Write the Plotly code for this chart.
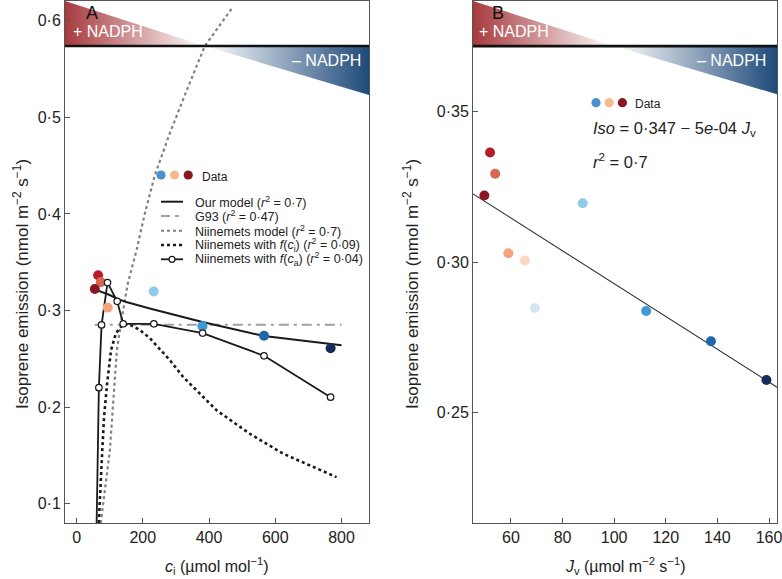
import plotly.graph_objects as go

# ---------------- data ----------------
# observations (shared between panels)
jv = [49.7, 51.9, 53.9, 59.0, 65.4, 69.3, 87.8, 112.4, 137.5, 159.0]
iso = [0.3222, 0.3365, 0.3294, 0.3030, 0.3006, 0.2848, 0.3196, 0.2838, 0.2738, 0.2609]
ci_obs = [55, 65, 73, 94, None, None, 233, 380, 566, 767]
pt_colors = ['#8a1822', '#b81c2c', '#d8674f', '#f3a47e', '#fbd7c2',
             '#d3e7f3', '#8ecbea', '#3d9ad6', '#2166ac', '#172a5a']

# panel A model curves
our_ci = [55, 100, 123, 150, 221, 282, 380, 566, 800]
our_iso = [0.3218, 0.3160, 0.3120, 0.3088, 0.3020, 0.2968, 0.2880, 0.2735, 0.2639]

g93_ci = [55, 800]
g93_iso = [0.2852, 0.2852]

niin_ci = [73, 87, 100.5, 107.5, 115.6, 121.6, 133.7, 154.8, 181.1, 206.2, 236.3, 281.6, 332.9, 387.3, 432.6, 472.7]
niin_iso = [0.080, 0.120, 0.155, 0.1896, 0.2242, 0.2588, 0.2867, 0.3282, 0.3624, 0.4007, 0.4401, 0.4836, 0.5282, 0.5738, 0.5955, 0.6145]

fci_ci = [67, 72, 77.5, 83, 92, 104, 118.6, 140.8, 165, 190, 221, 282, 322, 423, 523, 624, 785]
fci_iso = [0.080, 0.120, 0.155, 0.190, 0.224, 0.2588, 0.2763, 0.2862, 0.2845, 0.2800, 0.2714, 0.2484, 0.2311, 0.1966, 0.1724, 0.1517, 0.1275]

fca_ci = [60.5, 67.3, 75.4, 93.5, 122.6, 140.8, 233.3, 380.6, 566, 767]
fca_iso = [0.080, 0.2201, 0.2851, 0.3289, 0.3095, 0.2862, 0.2862, 0.2766, 0.2531, 0.2103]

# panel B regression
reg_intercept = 0.3474
reg_slope = -0.000545

# axes
xA_range = [-35, 883]
yA_range = [0.08, 0.6204]
xB_range = [45.3, 163.1]
yB_range = [0.2134, 0.3868]
xA_ticks = [0, 200, 400, 600, 800]
yA_ticks = [0.1, 0.2, 0.3, 0.4, 0.5, 0.6]
yA_text = ['0·1', '0·2', '0·3', '0·4', '0·5', '0·6']
xB_ticks = [60, 80, 100, 120, 140, 160]
yB_ticks = [0.25, 0.30, 0.35]
yB_text = ['0·25', '0·30', '0·35']

# NADPH bands (y of divider, x of diagonal crossing, y at right edge)
bandA = dict(ydiv=0.5738, xcross=387, yright=0.523)
bandB = dict(ydiv=0.3718, xcross=100.3, yright=0.3558)

legend_labels = [
    'Our model (<i>r</i><sup>2</sup> = 0·7)',
    'G93 (<i>r</i><sup>2</sup> = 0·47)',
    'Niinemets model (<i>r</i><sup>2</sup> = 0·7)',
    'Niinemets with <i>f</i>(<i>c</i><sub>i</sub>) (<i>r</i><sup>2</sup> = 0·09)',
    'Niinemets with <i>f</i>(<i>c</i><sub>a</sub>) (<i>r</i><sup>2</sup> = 0·04)',
]

FONT = 'Liberation Sans, Arial, sans-serif'
W, H = 782, 579
L, R, T, B = 65, 777, 1, 523
domA = [0, (369 - L) / (R - L)]
domB = [(473 - L) / (R - L), 1]


def pxx(px):
    return (px - L) / (R - L)


def pyy(py):
    return (B - py) / (B - T)


RED = 'rgb(166,58,62)'
BLUE = 'rgb(30,74,122)'

fig = go.Figure()


def add_bands(xr, yr, band, xa, ya):
    fig.add_trace(go.Scatter(
        x=[xr[0], xr[0], band['xcross'], xr[0]],
        y=[yr[1], band['ydiv'], band['ydiv'], yr[1]],
        fill='toself', mode='lines', line=dict(width=0),
        fillgradient=dict(type='horizontal', colorscale=[[0, RED], [1, 'rgb(255,255,255)']]),
        xaxis=xa, yaxis=ya, hoverinfo='skip', showlegend=False))
    fig.add_trace(go.Scatter(
        x=[band['xcross'], xr[1], xr[1], band['xcross']],
        y=[band['ydiv'], band['ydiv'], band['yright'], band['ydiv']],
        fill='toself', mode='lines', line=dict(width=0),
        fillgradient=dict(type='horizontal', colorscale=[[0, 'rgb(255,255,255)'], [1, BLUE]]),
        xaxis=xa, yaxis=ya, hoverinfo='skip', showlegend=False))


add_bands(xA_range, yA_range, bandA, 'x', 'y')
add_bands(xB_range, yB_range, bandB, 'x2', 'y2')

# panel A curves
fig.add_trace(go.Scatter(x=niin_ci, y=niin_iso, mode='lines', line=dict(color='#808080', width=2.2, dash='dot'),
                         showlegend=False, hoverinfo='skip'))
fig.add_trace(go.Scatter(x=fci_ci, y=fci_iso, mode='lines', line=dict(color='#1a1a1a', width=2.6, dash='dot'),
                         showlegend=False, hoverinfo='skip'))
fig.add_trace(go.Scatter(x=g93_ci, y=g93_iso, mode='lines',
                         line=dict(color='#a0a0a0', width=2, dash='10px,5px,3px,5px'),
                         showlegend=False, hoverinfo='skip'))
fig.add_trace(go.Scatter(x=our_ci, y=our_iso, mode='lines', line=dict(color='#1a1a1a', width=2),
                         showlegend=False, hoverinfo='skip'))
fig.add_trace(go.Scatter(x=fca_ci, y=fca_iso, mode='lines', line=dict(color='#1a1a1a', width=1.8),
                         showlegend=False, hoverinfo='skip'))

# data panel A (drawing order chosen so overlapping dots stack as in the figure)
orderA = [1, 2, 0, 3, 6, 7, 8, 9]
fig.add_trace(go.Scatter(x=[ci_obs[i] for i in orderA],
                         y=[iso[i] for i in orderA],
                         mode='markers',
                         marker=dict(size=10, color=[pt_colors[i] for i in orderA], line=dict(width=0)),
                         showlegend=False, hoverinfo='skip'))
# f(ca) hollow markers on top
fig.add_trace(go.Scatter(x=fca_ci[1:], y=fca_iso[1:], mode='markers',
                         marker=dict(size=6.5, color='white', line=dict(color='#1a1a1a', width=1.2)),
                         showlegend=False, hoverinfo='skip'))

# panel B
reg_x = list(xB_range)
reg_y = [reg_intercept + reg_slope * v for v in reg_x]
fig.add_trace(go.Scatter(x=reg_x, y=reg_y, mode='lines', line=dict(color='#333333', width=1.1),
                         xaxis='x2', yaxis='y2', showlegend=False, hoverinfo='skip'))
fig.add_trace(go.Scatter(x=jv, y=iso, mode='markers', marker=dict(size=10, color=pt_colors, line=dict(width=0)),
                         xaxis='x2', yaxis='y2', showlegend=False, hoverinfo='skip'))

axis_common = dict(showgrid=False, zeroline=False, showline=True, mirror=True, linecolor='#555555', linewidth=1,
                   ticks='inside', ticklen=5, tickcolor='#555555', tickwidth=1, ticklabeloverflow='allow',
                   tickfont=dict(family=FONT, size=16, color='#222222'))

fig.update_layout(
    width=W, height=H, margin=dict(l=L, r=W - R, t=T, b=H - B),
    paper_bgcolor='white', plot_bgcolor='white', showlegend=False,
    xaxis=dict(domain=domA, range=xA_range, tickvals=xA_ticks, anchor='y', **axis_common),
    yaxis=dict(domain=[0, 1], range=yA_range, tickvals=yA_ticks, ticktext=yA_text, anchor='x', **axis_common),
    xaxis2=dict(domain=domB, range=xB_range, tickvals=xB_ticks, anchor='y2', **axis_common),
    yaxis2=dict(domain=[0, 1], range=yB_range, tickvals=yB_ticks, ticktext=yB_text, anchor='x2', **axis_common),
)

shapes = []
# divider lines
shapes.append(dict(type='line', xref='x domain', yref='y', x0=0, x1=1, y0=bandA['ydiv'], y1=bandA['ydiv'],
                   line=dict(color='#111111', width=2.6)))
shapes.append(dict(type='line', xref='x2 domain', yref='y2', x0=0, x1=1, y0=bandB['ydiv'], y1=bandB['ydiv'],
                   line=dict(color='#111111', width=2.6)))

ann = []


def text(px, py, s, size, color='#222222', xanchor='left', yanchor='middle', angle=0):
    ann.append(dict(x=pxx(px), y=pyy(py), xref='paper', yref='paper', text=s, showarrow=False,
                    xanchor=xanchor, yanchor=yanchor, textangle=angle,
                    font=dict(family=FONT, size=size, color=color)))


def dot(px, py, r, color, line=None):
    shapes.append(dict(type='circle', xref='paper', yref='paper', xsizemode='pixel', ysizemode='pixel',
                       xanchor=pxx(px), yanchor=pyy(py), x0=-r, x1=r, y0=-r, y1=r,
                       fillcolor=color, line=line or dict(width=0)))


# panel labels and NADPH text
text(92, 13, 'A', 18, '#111111', xanchor='center')
text(498, 13, 'B', 18, '#111111', xanchor='center')
text(71, 32, '+ NADPH', 16, 'white')
text(363, 61, '– NADPH', 16, 'white', xanchor='right')
text(477, 32, '+ NADPH', 16, 'white')
text(768, 61, '– NADPH', 16, 'white', xanchor='right')

# axis titles
text(217, 566, '<i>c</i><sub>i</sub> (µmol mol<sup>−1</sup>)', 16, xanchor='center')
text(625, 566, '<i>J</i><sub>v</sub> (µmol m<sup>−2</sup> s<sup>−1</sup>)', 16, xanchor='center')
text(21, 284, 'Isoprene emission (nmol m<sup>−2</sup> s<sup>−1</sup>)', 17, xanchor='center', angle=-90)
text(411, 284, 'Isoprene emission (nmol m<sup>−2</sup> s<sup>−1</sup>)', 17, xanchor='center', angle=-90)

# panel A legend
legend_dot_cols = ['#4a8fd0', '#f5bb8c', '#8a1822']
for k, c in enumerate(legend_dot_cols):
    dot(161 + 13.6 * k, 175, 4.6, c)
text(200, 177, 'Data', 12)
ys = [201.7, 216, 230.7, 245, 259.3]
styles = [dict(color='#1a1a1a', width=2), dict(color='#a0a0a0', width=2, dash='9px,5px,4px,5px'),
          dict(color='#808080', width=2, dash='dot'), dict(color='#1a1a1a', width=2.4, dash='dot'),
          dict(color='#1a1a1a', width=1.8)]
for yv, st, lab in zip(ys, styles, legend_labels):
    shapes.append(dict(type='line', xref='paper', yref='paper', x0=pxx(161), x1=pxx(183), y0=pyy(yv), y1=pyy(yv),
                       line=st))
    text(193, yv, lab, 12.5)
dot(172, ys[4], 3, 'white', dict(color='#1a1a1a', width=1.2))

# panel B legend + equation
for k, c in enumerate(legend_dot_cols):
    dot(596 + 13.2 * k, 102.7, 4.6, c)
text(633, 104, 'Data', 12)
text(591, 129, '<i>Iso</i> = 0·347 − 5<i>e</i>-04 <i>J</i><sub>v</sub>', 16.5)
text(591, 161, '<i>r</i><sup>2</sup> = 0·7', 16.5)

fig.update_layout(shapes=shapes, annotations=ann)
fig.write_html('out.html', config={'displayModeBar': False},
               post_script="document.body.style.margin='0px';")
